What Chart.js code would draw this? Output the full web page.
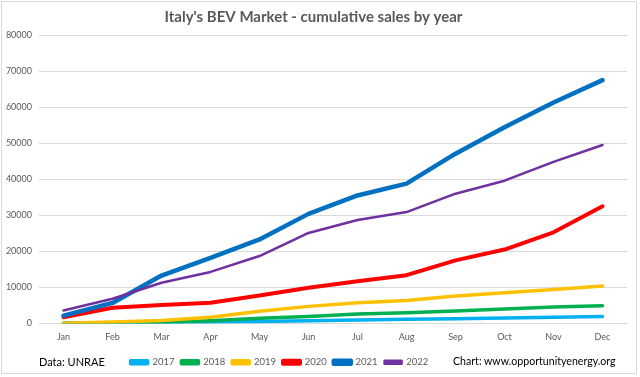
<!DOCTYPE html>
<html>
<head>
<meta charset="utf-8">
<script src="https://cdn.jsdelivr.net/npm/chart.js@4/dist/chart.umd.min.js"></script>
<style>
  html, body { margin: 0; padding: 0; background: #ffffff; }
  #wrap { position: relative; width: 640px; height: 377px; overflow: hidden; }
  #frame { position: absolute; left: 1px; top: 1px; width: 636px; height: 373px; border: 1px solid #d9d9d9; box-sizing: border-box; pointer-events: none; }
  .note { position: absolute; font-family: Lato, "Liberation Sans", sans-serif; font-size: 11px; color: #000; white-space: nowrap; }
</style>
</head>
<body>
<div id="wrap">
  <canvas id="c" width="640" height="377"></canvas>
  <div id="frame"></div>
  <div class="note" id="src" style="left:39px; top:355px;">Data: UNRAE</div>
  <div class="note" id="credit" style="left:453px; top:355px; font-size:10.6px;">Chart: www.opportunityenergy.org</div>
</div>
<script>
const months = ["Jan","Feb","Mar","Apr","May","Jun","Jul","Aug","Sep","Oct","Nov","Dec"];
const yearLabels = ["2017","2018","2019","2020","2021","2022"];
const s2017 = [50, 150, 250, 400, 550, 750, 950, 1150, 1350, 1550, 1750, 1950];
const s2018 = [50, 200, 350, 750, 1450, 1950, 2650, 2950, 3500, 4050, 4600, 4900];
const s2019 = [100, 400, 850, 1750, 3400, 4750, 5750, 6400, 7600, 8550, 9400, 10400];
const s2020 = [1750, 4350, 5100, 5750, 7750, 9900, 11700, 13400, 17500, 20500, 25300, 32500];
const s2021 = [2200, 5700, 13300, 18200, 23300, 30400, 35500, 38800, 47100, 54400, 61300, 67500];
const s2022 = [3600, 6850, 11300, 14300, 18700, 25100, 28700, 30900, 36000, 39600, 44800, 49500];
const yTicks = [0, 10000, 20000, 30000, 40000, 50000, 60000, 70000, 80000];

const colors = ["#00B0F0", "#00B050", "#FFC000", "#FF0000", "#0070C0", "#7030A0"];
const widths = [3.5, 3.5, 3.5, 4, 4.5, 2.5];
const series = [s2017, s2018, s2019, s2020, s2021, s2022];

const FONT = "Lato, 'Liberation Sans', sans-serif";

const shiftLegend = {
  id: 'shiftLegend',
  afterLayout(chart) {
    const lg = chart.legend;
    if (lg) { lg.left -= 34; lg.right -= 34; }
  }
};

new Chart(document.getElementById('c'), {
  type: 'line',
  data: {
    labels: months,
    datasets: series.map((d, i) => ({
      label: yearLabels[i],
      data: d,
      borderColor: colors[i],
      backgroundColor: colors[i],
      borderWidth: widths[i],
      pointRadius: 0,
      tension: 0,
      borderJoinStyle: 'round',
      borderCapStyle: 'round',
      fill: false,
      order: 6 - i
    }))
  },
  options: {
    responsive: false,
    animation: false,
    devicePixelRatio: 1,
    layout: { padding: { left: 0, right: 13, top: 0, bottom: 0 } },
    plugins: {
      title: {
        display: true,
        text: "Italy's BEV Market - cumulative sales by year",
        color: '#595959',
        font: { family: FONT, size: 15, weight: 'bold' },
        padding: { top: 8, bottom: 9 }
      },
      legend: {
        display: true,
        position: 'bottom',
        labels: {
          color: '#595959',
          font: { family: FONT, size: 9.5 },
          boxWidth: 17,
          boxHeight: 3,
          padding: 7,
          sort: (a, b) => a.datasetIndex - b.datasetIndex
        }
      },
      tooltip: { enabled: false }
    },
    scales: {
      x: {
        offset: true,
        grid: { display: false, drawTicks: false },
        border: { display: false },
        ticks: { color: '#595959', font: { family: FONT, size: 9 }, padding: 8, maxRotation: 0 },
        afterFit(scale) { scale.height = 27; }
      },
      y: {
        min: 0,
        max: 80000,
        afterBuildTicks(scale) { scale.ticks = yTicks.map(v => ({ value: v })); },
        grid: { color: '#d9d9d9', lineWidth: 1, drawTicks: false },
        border: { display: false },
        ticks: { color: '#595959', font: { family: FONT, size: 9 }, padding: 7, callback: v => String(v) },
        afterFit(scale) { scale.width = 39; }
      }
    }
  },
  plugins: [shiftLegend]
});
</script>
</body>
</html>
